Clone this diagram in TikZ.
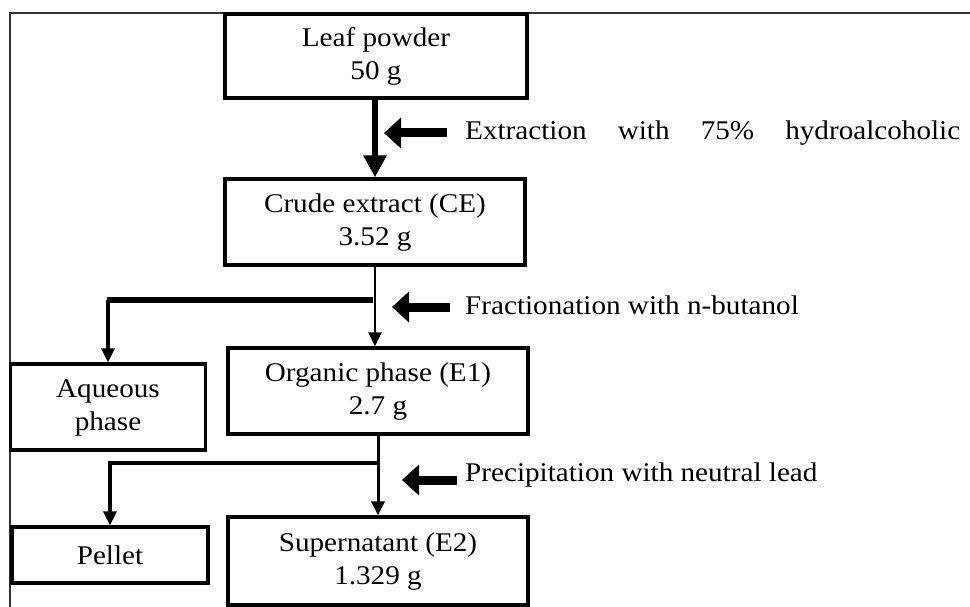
\documentclass[tikz,border=0pt]{standalone}
\usepackage{fontspec}
\setmainfont[FakeStretch=1.08]{Liberation Serif}
\usetikzlibrary{arrows.meta}
\newcommand{\bt}[1]{\raisebox{-5pt}{\begin{tabular}{@{}c@{}}#1\end{tabular}}}
\tikzset{
  box/.style={draw=black, line width=3.2pt, inner sep=0pt,
    font=\fontsize{27}{33}\selectfont},
  lbl/.style={anchor=west, inner sep=0pt, font=\fontsize{27}{30}\selectfont},
  flow/.style={-{Triangle[width=13pt,length=14pt]}, line width=2.8pt},
  heavy/.style={-{Triangle[width=22pt,length=22pt]}, line width=6.5pt},
  pointer/.style={-{Triangle[width=30pt,length=17pt]}, line width=9pt},
  frame/.style={draw=black!80, line width=1.8pt}
}
\begin{document}
\begin{tikzpicture}[x=1pt,y=-1pt]
\useasboundingbox (0,0) rectangle (970,607);
% frame
\draw[frame] (970,13) -- (10,13) -- (10,607);
% boxes
\node[box, minimum width=302pt, minimum height=84pt] (lp) at (376,56) {\bt{Leaf powder\\50 g}};
\node[box, minimum width=300pt, minimum height=86pt] (ce) at (375,222) {\bt{Crude extract (CE)\\3.52 g}};
\node[box, minimum width=300pt, minimum height=86pt] (op) at (378,391) {\bt{Organic phase (E1)\\2.7 g}};
\node[box, minimum width=195pt, minimum height=86pt] (aq) at (108,407) {\bt{Aqueous\\phase}};
\node[box, minimum width=196pt, minimum height=56pt] (pel) at (110,555) {\raisebox{-3pt}{Pellet}};
\node[box, minimum width=300pt, minimum height=88pt] (sup) at (378,561) {\bt{Supernatant (E2)\\1.329 g}};
% labels
\node[lbl] (t1) at (465,133) {\makebox[495pt][s]{Extraction\hfill with\hfill 75\%\hfill hydroalcoholic}};
\node[lbl] (t2) at (465,305) {Fractionation with n-butanol};
\node[lbl] (t3) at (465,475) {Precipitation with neutral lead};
% main flow
\draw[heavy] (ce.north |- lp.south) -- (ce.north);
\draw[flow] (ce.south) -- (ce.south |- op.north);
\draw[flow, line width=3pt] (op.south) -- (op.south |- sup.north);
% branches
\coordinate (b1) at (373,300);
\coordinate (b1l) at (aq.north |- b1);
\draw[line width=6.5pt] (b1) -- ([xshift=-1.5pt]b1l);
\draw[flow, line width=3.2pt] (b1l) -- (aq.north);
\coordinate (b2) at (378,463);
\coordinate (b2l) at (pel.north |- b2);
\draw[line width=3.2pt] (b2) -- ([xshift=-1.6pt]b2l);
\draw[flow, line width=3.2pt] (b2l) -- (pel.north);
% pointers
\coordinate (p1s) at (447,133); \coordinate (p1e) at (384,133);
\draw[pointer] (p1s) -- (p1e);
\coordinate (p2s) at (450,307); \coordinate (p2e) at (392,307);
\draw[pointer] (p2s) -- (p2e);
\coordinate (p3s) at (457,480); \coordinate (p3e) at (402,480);
\draw[pointer] (p3s) -- (p3e);
\end{tikzpicture}
\end{document}
